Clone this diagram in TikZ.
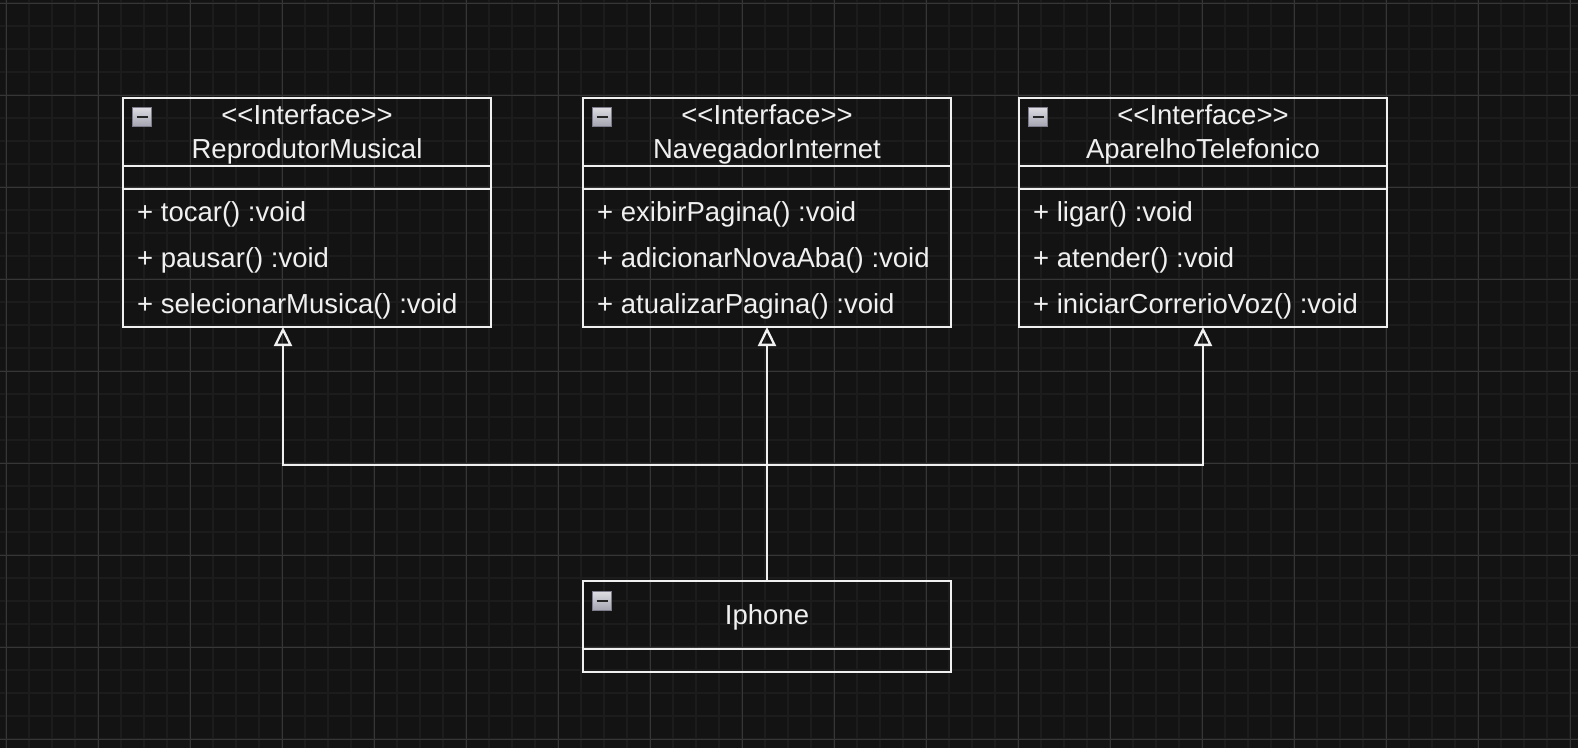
\documentclass[tikz,border=0pt]{standalone}
\usepackage{fontspec}
\setmainfont{Liberation Sans}
\usetikzlibrary{calc,arrows.meta}
\definecolor{canvas}{HTML}{131313}
\definecolor{gridminor}{HTML}{1C1C1C}
\definecolor{gridmajor}{HTML}{363636}
\definecolor{ink}{HTML}{F0F0F0}
\definecolor{iconhi}{HTML}{DCDCE2}
\definecolor{iconlo}{HTML}{A4A4B0}
\definecolor{iconrim}{HTML}{7C7C8A}
\def\stereo#1{<\kern0pt<#1>\kern0pt>}
\tikzset{
	umltext/.style={font=\fontsize{27.5}{32}\selectfont, text=ink, inner sep=0pt},
	classbox/.style={draw=ink, line width=2.3pt, minimum width=368pt, inner sep=0pt, outer sep=0pt, anchor=north west},
	divider/.style={draw=ink, line width=2.3pt},
	collapser/.style={draw=iconrim, line width=1pt, top color=iconhi, bottom color=iconlo, minimum size=19pt, inner sep=0pt, text=black!85},
	realizes/.style={draw=ink, line width=2.3pt, -{Triangle[open, length=19pt, width=18pt]}}
}

\begin{document}
\begin{tikzpicture}[x=1pt, y=-1pt]
		%%%%% START %%%%%
		
		\useasboundingbox (0,0) rectangle (1578,748);
		\fill[canvas] (0,0) rectangle (1578,748);
		\foreach \gx in {6,29,...,1578} \draw[gridminor, line width=1.6pt] (\gx,0) -- (\gx,748);
		\foreach \gy in {3,26,...,748} \draw[gridminor, line width=1.6pt] (0,\gy) -- (1578,\gy);
		\foreach \gx in {6,98,...,1578} \draw[gridmajor, line width=0.9pt] (\gx,0) -- (\gx,748);
		\foreach \gy in {3,95,...,748} \draw[gridmajor, line width=0.9pt] (0,\gy) -- (1578,\gy);
		
		% interface ReprodutorMusical
		\node[classbox, minimum height=229pt] (reprodutor) at (123,98) {};
		\draw[divider] ($(reprodutor.north west)+(0,68)$) -- ($(reprodutor.north east)+(0,68)$);
		\draw[divider] ($(reprodutor.north west)+(0,91)$) -- ($(reprodutor.north east)+(0,91)$);
		\node[collapser] (reprodutor-icon) at ($(reprodutor.north west)+(19,19)$) {\rule{11pt}{2.5pt}};
		\node[umltext, anchor=base] (reprodutor-stereo) at ($(reprodutor.north)+(0,26)$) {\stereo{Interface}};
		\node[umltext, anchor=base] (reprodutor-name) at ($(reprodutor.north)+(0,60)$) {ReprodutorMusical};
		\foreach \m [count=\i] in {tocar, pausar, selecionarMusica}
			\node[umltext, anchor=base west] (reprodutor-op\i) at ($(reprodutor.north west)+(14,77+46*\i)$) {+ \m() :void};
		
		% interface NavegadorInternet
		\node[classbox, minimum height=229pt] (navegador) at (583,98) {};
		\draw[divider] ($(navegador.north west)+(0,68)$) -- ($(navegador.north east)+(0,68)$);
		\draw[divider] ($(navegador.north west)+(0,91)$) -- ($(navegador.north east)+(0,91)$);
		\node[collapser] (navegador-icon) at ($(navegador.north west)+(19,19)$) {\rule{11pt}{2.5pt}};
		\node[umltext, anchor=base] (navegador-stereo) at ($(navegador.north)+(0,26)$) {\stereo{Interface}};
		\node[umltext, anchor=base] (navegador-name) at ($(navegador.north)+(0,60)$) {NavegadorInternet};
		\foreach \m [count=\i] in {exibirPagina, adicionarNovaAba, atualizarPagina}
			\node[umltext, anchor=base west] (navegador-op\i) at ($(navegador.north west)+(14,77+46*\i)$) {+ \m() :void};
		
		% interface AparelhoTelefonico
		\node[classbox, minimum height=229pt] (aparelho) at (1019,98) {};
		\draw[divider] ($(aparelho.north west)+(0,68)$) -- ($(aparelho.north east)+(0,68)$);
		\draw[divider] ($(aparelho.north west)+(0,91)$) -- ($(aparelho.north east)+(0,91)$);
		\node[collapser] (aparelho-icon) at ($(aparelho.north west)+(19,19)$) {\rule{11pt}{2.5pt}};
		\node[umltext, anchor=base] (aparelho-stereo) at ($(aparelho.north)+(0,26)$) {\stereo{Interface}};
		\node[umltext, anchor=base] (aparelho-name) at ($(aparelho.north)+(0,60)$) {AparelhoTelefonico};
		\foreach \m [count=\i] in {ligar, atender, iniciarCorrerioVoz}
			\node[umltext, anchor=base west] (aparelho-op\i) at ($(aparelho.north west)+(14,77+46*\i)$) {+ \m() :void};
		
		% class Iphone
		\node[classbox, minimum height=91pt] (iphone) at (583,581) {};
		\draw[divider] ($(iphone.north west)+(0,68)$) -- ($(iphone.north east)+(0,68)$);
		\node[collapser] (iphone-icon) at ($(iphone.north west)+(19,20)$) {\rule{11pt}{2.5pt}};
		\node[umltext, anchor=base] (iphone-name) at ($(iphone.north)+(0,43)$) {Iphone};
		
		% realizations
		\coordinate (bus) at (iphone.north |- 0,465);
		\coordinate (reprodutor-port) at ($(reprodutor.south)+(-24,0)$);
		\draw[realizes] (iphone.north) -- (bus) -| (reprodutor-port);
		\draw[realizes] (bus) -- (navegador.south);
		\draw[realizes] (bus) -| (aparelho.south);
		
		%%%%% END %%%%%
\end{tikzpicture}
\end{document}
